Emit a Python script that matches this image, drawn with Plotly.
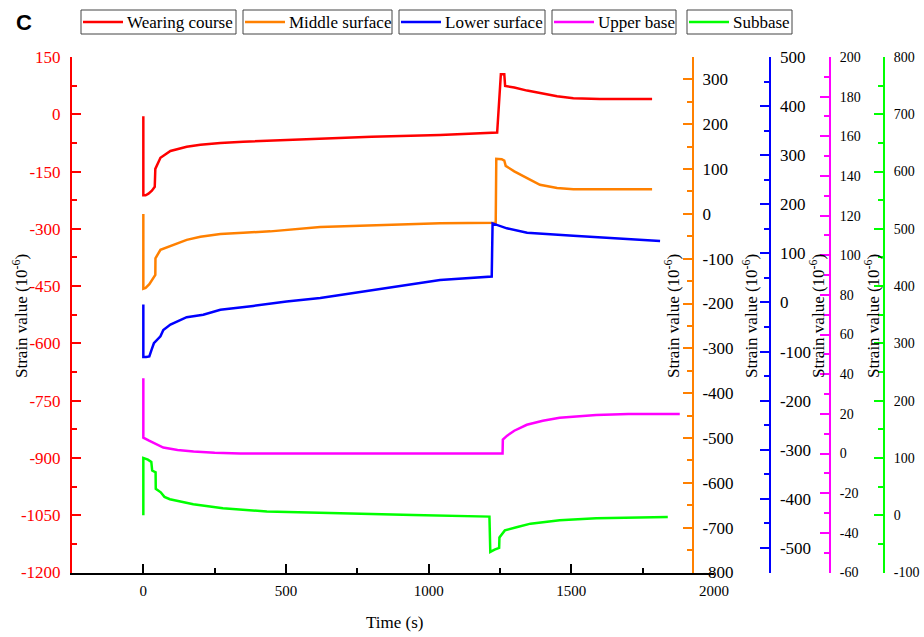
import plotly.graph_objects as go

W, H = 924, 637

# ---------------- data ----------------
series_names = ["Wearing course", "Middle surface", "Lower surface", "Upper base", "Subbase"]
series_colors = ["#FF0000", "#FF8000", "#0000FF", "#FF00FF", "#00FF00"]

wearing_t = [0, 0, 8, 18, 30, 40, 42, 60, 95, 152, 200, 270, 350, 445, 620, 800, 1040, 1240, 1253, 1265, 1268, 1300, 1345, 1390, 1450, 1507, 1600, 1783]
wearing_v = [-5, -212, -212, -208, -200, -190, -143, -114, -96, -85, -80, -75, -72, -69, -63, -59, -54, -48, 105, 105, 74, 70, 62, 55, 47, 42, 40, 40]

middle_t = [0, 0, 8, 21, 42, 42.5, 60, 95, 152, 200, 270, 350, 445, 620, 850, 1040, 1235, 1237, 1256, 1265, 1270, 1300, 1345, 1390, 1450, 1507, 1783]
middle_v = [0, -167, -165, -157, -136, -99, -80, -71, -58, -51, -45, -42, -39, -29, -24, -21, -20, 123, 122, 119, 107, 95, 80, 65, 58, 55, 55]

lower_t = [0, 0, 10, 21, 29, 37, 60, 70, 95, 152, 210, 270, 385, 502, 620, 800, 950, 1040, 1221, 1224, 1274, 1345, 1507, 1624, 1811]
lower_v = [-4, -111, -111, -110, -96, -83, -69, -56, -45, -30, -25, -15, -7, 2, 9, 25, 38, 46, 53, 161, 151, 142, 136, 132, 125]

upper_t = [0, 0, 20, 41, 70, 120, 176, 250, 340, 1259, 1260, 1275, 1300, 1344, 1400, 1459, 1587, 1700, 1880]
upper_v = [38, 8, 6.5, 5, 3, 1.8, 1, 0.4, 0, 0, 7, 9, 11.5, 14.5, 16.5, 18, 19.5, 20, 20]

subbase_t = [0, 0, 16, 28, 31, 43, 43.5, 61, 74, 93, 175, 279, 433, 689, 946, 1213, 1216, 1231, 1247, 1248, 1267, 1311, 1357, 1459, 1587, 1838]
subbase_v = [0, 100, 97, 93, 78, 75, 46, 40, 32, 28, 19, 12, 6.5, 3, 0.6, -2.4, -64, -60, -57, -39, -26.5, -20.6, -14.7, -8.8, -5.3, -3]

x_ticks = [0, 500, 1000, 1500, 2000]
red_ticks = [-1200, -1050, -900, -750, -600, -450, -300, -150, 0, 150]
orange_ticks = [-800, -700, -600, -500, -400, -300, -200, -100, 0, 100, 200, 300]
blue_ticks = [-500, -400, -300, -200, -100, 0, 100, 200, 300, 400, 500]
magenta_ticks = [-60, -40, -20, 0, 20, 40, 60, 80, 100, 120, 140, 160, 180, 200]
green_ticks = [-100, 0, 100, 200, 300, 400, 500, 600, 700, 800]

# ---------------- layout helpers ----------------
def fx(p):
    return p / W

def fy(p):
    return 1 - p / H

SERIF = "Liberation Serif, Times New Roman, serif"

fig = go.Figure()
data = [(wearing_t, wearing_v, "y"), (middle_t, middle_v, "y2"), (lower_t, lower_v, "y3"),
        (upper_t, upper_v, "y4"), (subbase_t, subbase_v, "y5")]
for (t, v, ya), name, col in zip(data, series_names, series_colors):
    fig.add_trace(go.Scatter(x=t, y=v, yaxis=ya, mode="lines", name=name,
                             line=dict(color=col, width=2.5), showlegend=False))

x_dom = [fx(72), fx(714)]
y_dom = [fy(572.5), fy(57)]

def yax(color, rng, ticks, minor, fsize, labcolor, standoff, **kw):
    d = dict(range=rng, tickmode="array", tickvals=ticks, ticktext=[str(v) for v in ticks],
             showgrid=False, zeroline=False, automargin=False,
             showline=True, linecolor=color, linewidth=2,
             ticks="inside", ticklen=9, tickwidth=2, tickcolor=color,
             ticklabelstandoff=standoff,
             tickfont=dict(family=SERIF, size=fsize, color=labcolor),
             minor=dict(dtick=minor, tick0=0, ticks="inside", ticklen=5, tickwidth=2, tickcolor=color, showgrid=False),
             domain=y_dom)
    d.update(kw)
    return d

fig.update_layout(
    width=W, height=H, margin=dict(l=0, r=0, t=0, b=0, autoexpand=False),
    paper_bgcolor="white", plot_bgcolor="white",
    xaxis=dict(domain=x_dom, range=[-250, 2000], tickmode="array", tickvals=x_ticks,
               ticktext=[str(v) for v in x_ticks], showgrid=False, zeroline=False, automargin=False,
               showline=True, linecolor="black", linewidth=2,
               ticks="inside", ticklen=9, tickwidth=2, tickcolor="black", ticklabelstandoff=3,
               minor=dict(dtick=250, tick0=0, ticks="inside", ticklen=5, tickwidth=2, tickcolor="black"),
               tickfont=dict(family=SERIF, size=15, color="black")),
    yaxis=yax("#FF0000", [-1200, 150], red_ticks, 75, 17, "#FF0000", 6, side="left", anchor="x"),
    yaxis2=yax("#FF8000", [-800, 350], orange_ticks, 50, 17, "black", 5, side="right", anchor="free",
               overlaying="y", position=fx(693)),
    yaxis3=yax("#0000FF", [-550, 500], blue_ticks, 50, 17, "black", 6, side="right", anchor="free",
               overlaying="y", position=fx(769.5)),
    yaxis4=yax("#FF00FF", [-60, 200], magenta_ticks, 10, 14, "black", 6, side="right", anchor="free",
               overlaying="y", position=fx(830)),
    yaxis5=yax("#00FF00", [-100, 800], green_ticks, 50, 14, "black", 6, side="right", anchor="free",
               overlaying="y", position=fx(884)),
)

ann = []
ytitle = "Strain value (10<sup>-6</sup>)"
for xc in [20, 672, 750, 817, 872]:
    ann.append(dict(x=fx(xc), y=fy(316), xref="paper", yref="paper", text=ytitle, textangle=-90,
                    showarrow=False, xanchor="center", yanchor="middle",
                    font=dict(family=SERIF, size=17, color="black")))
ann.append(dict(x=fx(394), y=fy(622), xref="paper", yref="paper", text="Time (s)", showarrow=False,
                xanchor="center", yanchor="middle", font=dict(family=SERIF, size=17, color="black")))
ann.append(dict(x=fx(24), y=fy(22), xref="paper", yref="paper", text="<b>C</b>", showarrow=False,
                xanchor="center", yanchor="middle", font=dict(family="Liberation Sans, Arial", size=22, color="black")))

# legend boxes (drawn manually: each entry in its own frame)
boxes = [(81, 236), (243, 392), (399, 545), (552, 676), (687, 792)]
shapes = []
for (x0, x1), name, col in zip(boxes, series_names, series_colors):
    shapes.append(dict(type="rect", xref="paper", yref="paper", x0=fx(x0), x1=fx(x1), y0=fy(34), y1=fy(10),
                       line=dict(color="#444444", width=1), fillcolor="white"))
    shapes.append(dict(type="line", xref="paper", yref="paper", x0=fx(x0 + 2), x1=fx(x0 + 42), y0=fy(22), y1=fy(22),
                       line=dict(color=col, width=2.5)))
    ann.append(dict(x=fx(x0 + 44), y=fy(22.5), xref="paper", yref="paper", text=name, showarrow=False,
                    xanchor="left", yanchor="middle", font=dict(family=SERIF, size=17, color="black")))

fig.update_layout(annotations=ann, shapes=shapes)
fig.write_html("out.html")
